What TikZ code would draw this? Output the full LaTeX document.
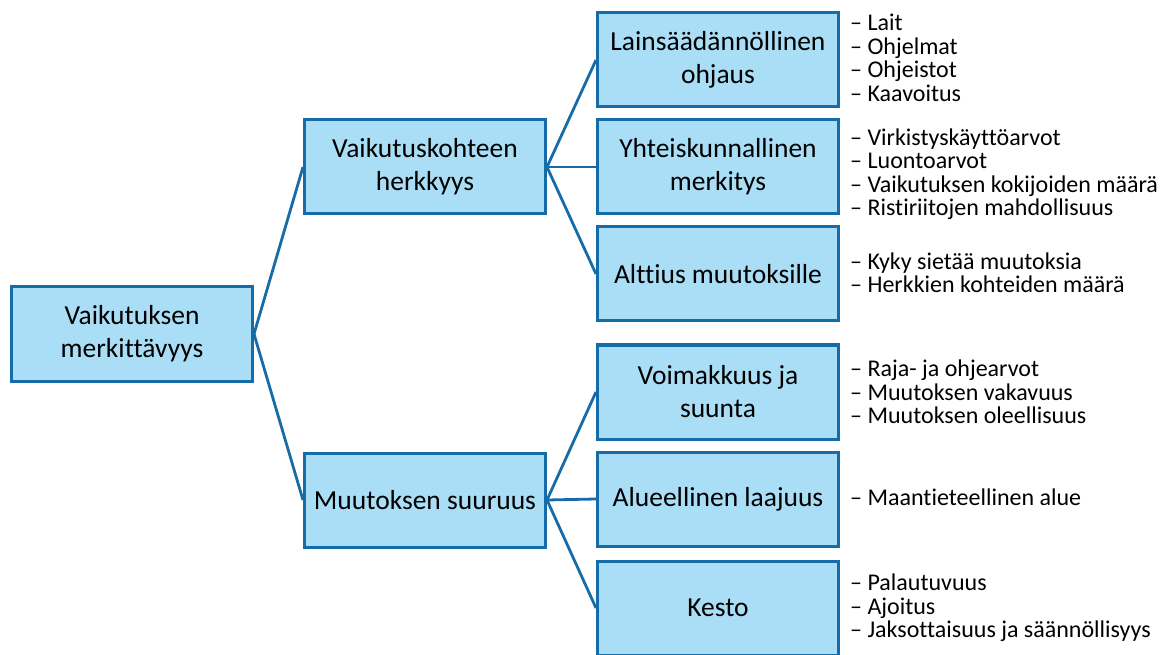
\documentclass[tikz,border=0pt]{standalone}
\usepackage{fontspec}
\setmainfont{Carlito}[Ligatures=NoCommon]
\usetikzlibrary{positioning}
\definecolor{boxfill}{RGB}{170,222,246}
\definecolor{boxline}{RGB}{22,108,168}
\tikzset{
    box/.style={draw=boxline, fill=boxfill, line width=3pt, minimum width=241pt,
      minimum height=94pt, align=center, font=\fontsize{27.5}{33}\selectfont},
    list/.style={anchor=west, align=left, inner sep=0pt, font=\fontsize{24}{23.5}\selectfont},
    link/.style={draw=boxline, line width=2.8pt},
}
\begin{document}
\begin{tikzpicture}[x=1pt, y=-1pt]
    \useasboundingbox (0,0) rectangle (1171,655);
    \tikzset{node distance=10pt}

    % root and middle level
    \node[box] (root) at (132,334) {Vaikutuksen\\merkittävyys};
    \node[box] (herk) at (425,167) {Vaikutuskohteen\\herkkyys};
    \node[box] (muut) at (425,500) {Muutoksen suuruus};

    % right column, top group
    \node[box] (laki) at (718,60) {Lainsäädännöllinen\\ohjaus};
    \node[box, below=of laki] (yht) {Yhteiskunnallinen\\merkitys};
    \node[box, below=of yht] (alt) {Alttius muutoksille};

    % right column, bottom group
    \node[box] (voim) at (718,392) {Voimakkuus ja\\suunta};
    \node[box, below=of voim] (alue) {Alueellinen laajuus};
    \node[box, below=12pt of alue] (kesto) {Kesto};

    \draw[link] (root.east) -- (herk.west);
    \draw[link] (root.east) -- (muut.west);
    \foreach \n in {laki, yht, alt}
        \draw[link] (herk.east) -- (\n.west);
    \foreach \n in {voim, alue, kesto}
        \draw[link] (muut.east) -- (\n.west);

    % lists beside the boxes
    \node[list, right=10pt of laki.east, yshift=2pt] (l-laki) {– Lait\\– Ohjelmat\\– Ohjeistot\\– Kaavoitus};
    \node[list, right=10pt of yht.east, yshift=-7pt] (l-yht) {– Virkistyskäyttöarvot\\– Luontoarvot\\– Vaikutuksen kokijoiden määrä\\– Ristiriitojen mahdollisuus};
    \node[list, right=10pt of alt.east, yshift=1pt] (l-alt) {– Kyky sietää muutoksia\\– Herkkien kohteiden määrä};
    \node[list, right=10pt of voim.east] (l-voim) {– Raja- ja ohjearvot\\– Muutoksen vakavuus\\– Muutoksen oleellisuus};
    \node[list, right=10pt of alue.east, yshift=2pt] (l-alue) {– Maantieteellinen alue};
    \node[list, right=10pt of kesto.east, yshift=0pt] (l-kesto) {– Palautuvuus\\– Ajoitus\\– Jaksottaisuus ja säännöllisyys};
\end{tikzpicture}
\end{document}
